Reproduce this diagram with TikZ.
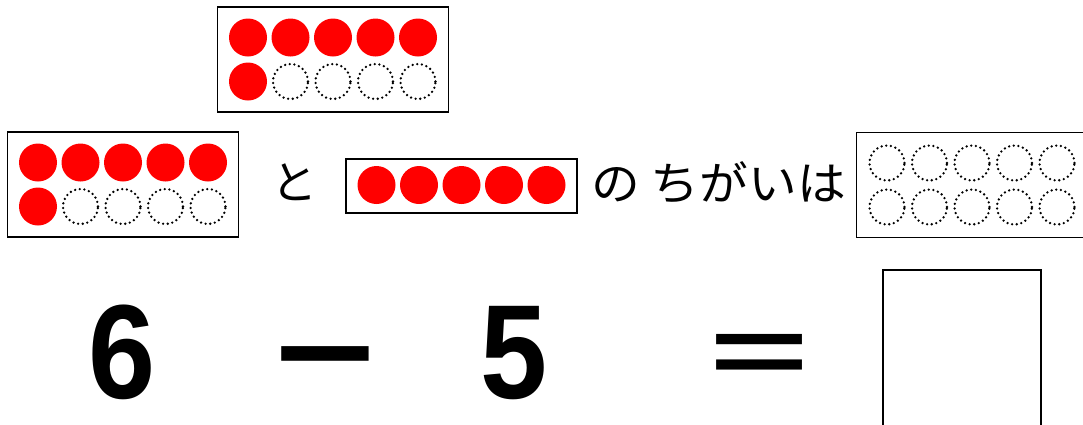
\documentclass[tikz,border=0pt]{standalone}
\usepackage{fontspec}
\usepackage{graphicx}
\usetikzlibrary{calc}
\newfontfamily\jpfont{Noto Sans CJK JP}
\newfontfamily\numfont{Liberation Sans}
\definecolor{beadred}{RGB}{255,0,0}

\tikzset{
	frame/.style={draw, line width=1.6pt, minimum width=231pt, minimum height=105pt, inner sep=0pt},
	bead/.style={circle, fill=beadred, minimum size=38pt, inner sep=0pt},
	hole/.style={circle, draw, line width=2.6pt, line cap=round, dash pattern=on 0pt off 4.7pt, minimum size=35pt, inner sep=0pt},
	word/.style={font=\jpfont\fontsize{46}{46}\selectfont, inner sep=0pt},
	big/.style={font=\numfont\bfseries\fontsize{134}{134}\selectfont, inner sep=0pt, anchor=base}
}

% ten frame: name, x, y, number of red beads
\newcommand{\tenframe}[4]{%
	\node[frame] (#1) at (#2,#3) {};
	\foreach \k in {0,...,9}{%
		\pgfmathtruncatemacro{\col}{mod(\k,5)}%
		\pgfmathtruncatemacro{\row}{int(\k/5)}%
		\ifnum\k<#4\relax
			\node[bead] (#1-\k) at ($(#1)+(\col*42.5-85,\row*44-22)$) {};
		\else
			\node[hole] (#1-\k) at ($(#1)+(\col*42.5-85,\row*44-22)$) {};
		\fi
	}%
}

\begin{document}
\begin{tikzpicture}[x=1pt,y=-1pt]
	\useasboundingbox (0,0) rectangle (1083,424);

	% Frames
	\tenframe{six}{333}{59.5}{6}
	\tenframe{sixb}{123}{184.5}{6}
	\tenframe{ten}{972}{185}{0}

	\node[frame, minimum height=54pt] (five) at (461.5,186) {};
	\foreach \c in {0,...,4}
		\node[bead] (five-\c) at ($(five)+(\c*42.5-85,-1)$) {};

	% Words
	\node[word] (to) at (294,182) {と};
	\node[word, anchor=west] (diff) at (591,183) {\scalebox{1.06}[1]{の ちがいは}};

	% Numbers (all on one baseline)
	\node[big] (n6) at (122,398) {\scalebox{0.9}[1]{6}};
	\node[big] (minus) at (325.5,398) {\scalebox{1.3}[1]{−}};
	\node[big] (n5) at (514.5,398) {\scalebox{0.9}[1]{5}};
	\node[big, font=\numfont\bfseries\fontsize{118}{118}\selectfont] (eq) at (759.5,383) {\scalebox{1.45}[0.8]{=}};

	\node[draw, line width=1.5pt, minimum width=158pt, minimum height=170pt] (answer) at (962,355) {};
\end{tikzpicture}
\end{document}
